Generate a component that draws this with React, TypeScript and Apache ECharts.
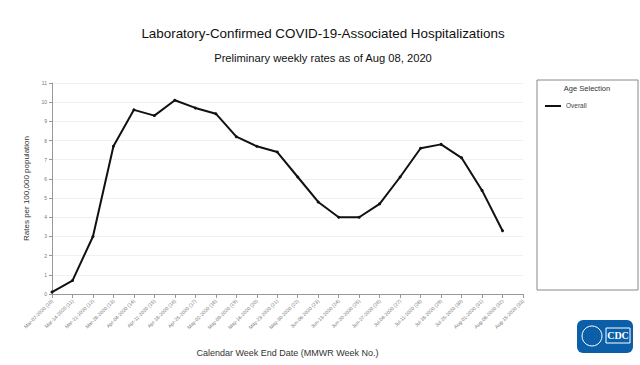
import React, { useEffect, useRef } from "react";
import * as echarts from "echarts";

const weekLabels = [
  "Mar-07-2020 (10)", "Mar-14-2020 (11)", "Mar-21-2020 (12)", "Mar-28-2020 (13)",
  "Apr-04-2020 (14)", "Apr-11-2020 (15)", "Apr-18-2020 (16)", "Apr-25-2020 (17)",
  "May-02-2020 (18)", "May-09-2020 (19)", "May-16-2020 (20)", "May-23-2020 (21)",
  "May-30-2020 (22)", "Jun-06-2020 (23)", "Jun-13-2020 (24)", "Jun-20-2020 (25)",
  "Jun-27-2020 (26)", "Jul-04-2020 (27)", "Jul-11-2020 (28)", "Jul-18-2020 (29)",
  "Jul-25-2020 (30)", "Aug-01-2020 (31)", "Aug-08-2020 (32)", "Aug-15-2020 (33)",
];

const overallRates: (number | null)[] = [
  0.1, 0.7, 3.0, 7.7, 9.6, 9.3, 10.1, 9.7, 9.4, 8.2, 7.7, 7.4,
  6.1, 4.8, 4.0, 4.0, 4.7, 6.1, 7.6, 7.8, 7.1, 5.4, 3.3, null,
];

const titleText = "Laboratory-Confirmed COVID-19-Associated Hospitalizations";
const subtitleText = "Preliminary weekly rates as of Aug 08, 2020";
const seriesName = "Overall";

export default function App() {
  const ref = useRef<HTMLDivElement>(null);
  useEffect(() => {
    if (!ref.current) return;
    const chart = echarts.init(ref.current, null, { renderer: "svg" });
    const font = "Liberation Sans, Arial, sans-serif";
    chart.setOption({
      animation: false,
      backgroundColor: "#fff",
      textStyle: { fontFamily: font },
      title: [
        {
          text: titleText,
          left: 318,
          top: 22,
          textAlign: "center",
          textStyle: { fontSize: 13.4, fontWeight: "normal", color: "#111", fontFamily: font },
        },
        {
          text: subtitleText,
          left: 318,
          top: 47,
          textAlign: "center",
          textStyle: { fontSize: 11.2, fontWeight: "normal", color: "#111", fontFamily: font },
        },
      ],
      grid: { left: 52, right: 117, top: 83, bottom: 71, containLabel: false },
      xAxis: {
        type: "category",
        data: weekLabels,
        boundaryGap: false,
        name: "Calendar Week End Date (MMWR Week No.)",
        nameLocation: "middle",
        nameGap: 54,
        nameTextStyle: { fontSize: 9, color: "#333" },
        axisLine: { lineStyle: { color: "#999", width: 1 } },
        axisTick: { show: true, alignWithLabel: true, lineStyle: { color: "#999" }, length: 4 },
        axisLabel: { rotate: 45, fontSize: 5, color: "#777", interval: 0, margin: 6 },
        splitLine: { show: false },
      },
      yAxis: {
        type: "value",
        min: 0,
        max: 11,
        interval: 1,
        name: "Rates per 100,000 population",
        nameLocation: "middle",
        nameGap: 16,
        nameTextStyle: { fontSize: 8, color: "#333" },
        axisLine: { show: true, lineStyle: { color: "#999" } },
        axisTick: { show: true, length: 3, lineStyle: { color: "#999" } },
        axisLabel: { fontSize: 5, color: "#777", margin: 5 },
        splitLine: { show: true, lineStyle: { color: "#f0f0f0", width: 1 } },
      },
      series: [
        {
          name: seriesName,
          type: "line",
          data: overallRates,
          symbol: "circle",
          symbolSize: 3,
          showSymbol: true,
          lineStyle: { color: "#111", width: 2 },
          itemStyle: { color: "#111" },
        },
      ],
      graphic: [
        {
          type: "rect",
          shape: { x: 537, y: 80, width: 101, height: 210 },
          style: { fill: "#fff", stroke: "#888", lineWidth: 1 },
        },
        {
          type: "text",
          x: 587,
          y: 84,
          style: { text: "Age Selection", fontSize: 7.5, fill: "#333", textAlign: "center", fontFamily: font },
        },
        {
          type: "line",
          shape: { x1: 545, y1: 106, x2: 561, y2: 106 },
          style: { stroke: "#111", lineWidth: 2 },
        },
        {
          type: "text",
          x: 566,
          y: 102,
          style: { text: seriesName, fontSize: 6.5, fill: "#444", fontFamily: font },
        },
        {
          type: "rect",
          shape: { x: 577, y: 320, width: 56, height: 33, r: 6 },
          style: { fill: "#0b5ea8" },
        },
        {
          type: "circle",
          shape: { cx: 592, cy: 336, r: 10 },
          style: { fill: "none", stroke: "#fff", lineWidth: 1 },
        },
        {
          type: "rect",
          shape: { x: 606, y: 328, width: 24, height: 15 },
          style: { fill: "none", stroke: "#fff", lineWidth: 1 },
        },
        {
          type: "text",
          x: 618,
          y: 330,
          style: { text: "CDC", fontSize: 10, fontWeight: "bold", fill: "#fff", textAlign: "center", fontFamily: "Liberation Serif, serif" },
        },
      ],
    });
    return () => chart.dispose();
  }, []);
  return <div ref={ref} style={{ width: 640, height: 365, position: "absolute", left: 0, top: 0 }} />;
}
